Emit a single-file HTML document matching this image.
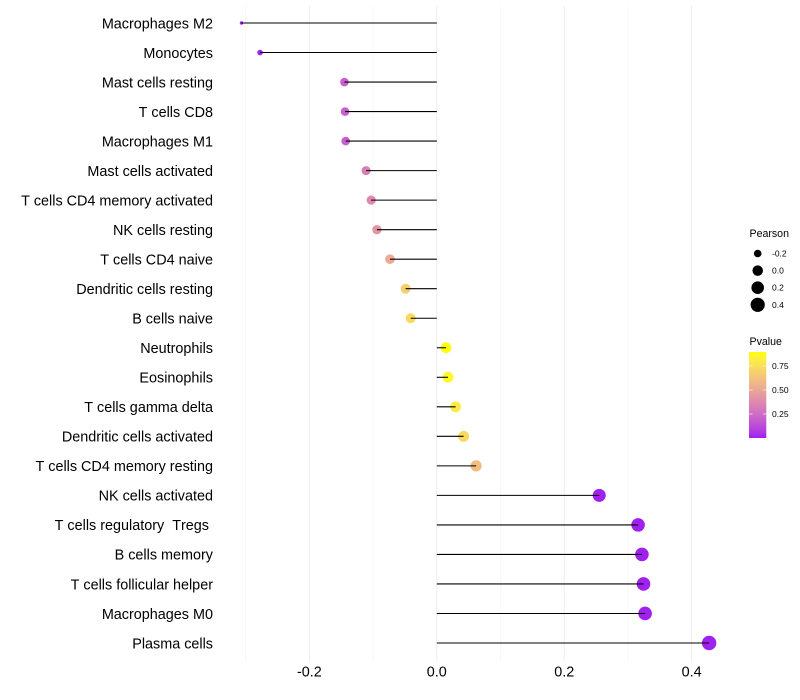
<!DOCTYPE html>
<html>
<head>
<meta charset="utf-8">
<title>Immune cell correlation lollipop chart</title>
<style>
html,body{margin:0;padding:0;background:#fff;}
svg{display:block;font-family:"Liberation Sans",Arial,sans-serif;font-kerning:none;}
</style>
</head>
<body>
<svg id="chart" xmlns="http://www.w3.org/2000/svg" width="800" height="700" viewBox="0 0 800 700"></svg>
<script>
const categories = ["Macrophages M2","Monocytes","Mast cells resting","T cells CD8","Macrophages M1","Mast cells activated","T cells CD4 memory activated","NK cells resting","T cells CD4 naive","Dendritic cells resting","B cells naive","Neutrophils","Eosinophils","T cells gamma delta","Dendritic cells activated","T cells CD4 memory resting","NK cells activated","T cells regulatory  Tregs ","B cells memory","T cells follicular helper","Macrophages M0","Plasma cells"];
const pearson = [-0.3066,-0.2775,-0.145,-0.144,-0.143,-0.111,-0.103,-0.094,-0.0735,-0.049,-0.041,0.0145,0.0176,0.0295,0.042,0.0617,0.255,0.316,0.322,0.3245,0.327,0.4275];
const pvalue = [0.001,0.01,0.2,0.2,0.2,0.33,0.37,0.42,0.52,0.68,0.73,0.89,0.87,0.8,0.72,0.6,0.001,0.001,0.001,0.001,0.001,0.001];
const majorTicks = [-0.2,0,0.2,0.4];
const minorTicks = [-0.3,-0.1,0.1,0.3];
const tickLabels = ["-0.2","0.0","0.2","0.4"];
const sizeLegendValues = [-0.2,0,0.2,0.4];
const sizeLegendLabels = ["-0.2","0.0","0.2","0.4"];
const colorLegendValues = [0.25,0.5,0.75];
const colorLegendLabels = ["0.25","0.50","0.75"];

const svg = document.getElementById('chart');
const NS = 'http://www.w3.org/2000/svg';
function add(tag, attrs, parent){
  const el = document.createElementNS(NS, tag);
  for (const k in attrs) el.setAttribute(k, attrs[k]);
  (parent || svg).appendChild(el);
  return el;
}
const xScale = v => 436.8 + v * 637;
const yScale = i => 23 + i * (620 / (categories.length - 1));
const pMin = Math.min(...pearson), pMax = Math.max(...pearson);
const radius = v => 1.7 + 5.5 * Math.sqrt(Math.max(0, (v - pMin) / (pMax - pMin)));

function srgbToLab(c){
  const l = c.map(v => { v /= 255; return v > 0.04045 ? Math.pow((v + 0.055) / 1.055, 2.4) : v / 12.92; });
  const x = (0.4124564*l[0] + 0.3575761*l[1] + 0.1804375*l[2]) / 0.95047;
  const y = 0.2126729*l[0] + 0.7151522*l[1] + 0.0721750*l[2];
  const z = (0.0193339*l[0] + 0.1191920*l[1] + 0.9503041*l[2]) / 1.08883;
  const f = t => t > 0.008856 ? Math.cbrt(t) : 7.787*t + 16/116;
  return [116*f(y) - 16, 500*(f(x) - f(y)), 200*(f(y) - f(z))];
}
function labToRgb(L){
  const fy = (L[0] + 16) / 116, fx = fy + L[1] / 500, fz = fy - L[2] / 200;
  const g = t => t*t*t > 0.008856 ? t*t*t : (t - 16/116) / 7.787;
  const x = g(fx)*0.95047, y = g(fy), z = g(fz)*1.08883;
  const r = [3.2404542*x - 1.5371385*y - 0.4985314*z, -0.9692660*x + 1.8760108*y + 0.0415560*z, 0.0556434*x - 0.2040259*y + 1.0572252*z];
  const c = r.map(v => { v = Math.min(1, Math.max(0, v)); v = v <= 0.0031308 ? 12.92*v : 1.055*Math.pow(v, 1/2.4) - 0.055; return Math.round(v*255); });
  return 'rgb(' + c.join(',') + ')';
}
const labLow = srgbToLab([160,32,240]);
const labHigh = srgbToLab([255,255,0]);
const pTop = 0.895;
const colorOf = p => {
  const t = Math.min(1, Math.max(0, p / pTop));
  return labToRgb(labLow.map((v, i) => v + (labHigh[i] - v) * t));
};

// grid lines
minorTicks.forEach(v => {
  const l = add('line', {x1:xScale(v), x2:xScale(v), y1:5, y2:661, stroke:'#f4f4f4', 'stroke-width':0.6});
  
  
});
majorTicks.forEach(v => {
  const l = add('line', {x1:xScale(v), x2:xScale(v), y1:5, y2:661, stroke:'#ececec', 'stroke-width':0.9});
  
  
});

// y-axis labels
categories.forEach((c, i) => {
  const t = add('text', {x:213, y:yScale(i) + 5.3, 'text-anchor':'end', 'font-size':14.4, fill:'#000'});
  t.setAttribute('xml:space', 'preserve');
  t.style.whiteSpace = 'pre';
  t.textContent = c;
  
  
});

// points
pearson.forEach((v, i) => {
  const c = add('circle', {cx:xScale(v), cy:yScale(i), r:radius(v), fill:colorOf(pvalue[i])});
  
  
});
// segments
pearson.forEach((v, i) => {
  const l = add('line', {x1:xScale(0), x2:xScale(v), y1:yScale(i), y2:yScale(i), stroke:'#000', 'stroke-width':1.07});
  
  
});

// x-axis labels
majorTicks.forEach((v, i) => {
  const t = add('text', {x:xScale(v), y:676.5, 'text-anchor':'middle', 'font-size':14.4, fill:'#000'});
  t.textContent = tickLabels[i];
  
  
});

// size legend
const sizeTitle = add('text', {x:749.5, y:237, 'font-size':10.6, fill:'#000'});
sizeTitle.textContent = 'Pearson';


sizeLegendValues.forEach((v, i) => {
  const cy = 253.5 + i * 17.1;
  const c = add('circle', {cx:757.7, cy:cy, r:radius(v), fill:'#000'});
  
  
  const t = add('text', {x:772, y:cy + 3, 'font-size':8.5, fill:'#000'});
  t.textContent = sizeLegendLabels[i];
  
  
});

// colour legend
const colorTitle = add('text', {x:749.5, y:345, 'font-size':10.6, fill:'#000'});
colorTitle.textContent = 'Pvalue';


const barTop = 352, barBottom = 438, barX = 749, barW = 17.3;
const pToBar = p => barBottom - p * (barBottom - barTop) / pTop;
const defs = add('defs', {});
const grad = add('linearGradient', {id:'pvalue-gradient', x1:0, y1:1, x2:0, y2:0}, defs);
for (let s = 0; s <= 20; s++) {
  add('stop', {offset:(s * 5) + '%', 'stop-color':colorOf(pTop * s / 20)}, grad);
}
const bar = add('rect', {x:barX, y:barTop, width:barW, height:barBottom - barTop, fill:'url(#pvalue-gradient)'});


colorLegendValues.forEach((p, i) => {
  const y = pToBar(p);
  const a = add('line', {x1:barX, x2:barX + 3.5, y1:y, y2:y, stroke:'#fff', 'stroke-width':0.6});
  
  
  const b = add('line', {x1:barX + barW - 3.5, x2:barX + barW, y1:y, y2:y, stroke:'#fff', 'stroke-width':0.6});
  
  
  const t = add('text', {x:772, y:y + 3, 'font-size':8.5, fill:'#000'});
  t.textContent = colorLegendLabels[i];
  
  
});
</script>
</body>
</html>
